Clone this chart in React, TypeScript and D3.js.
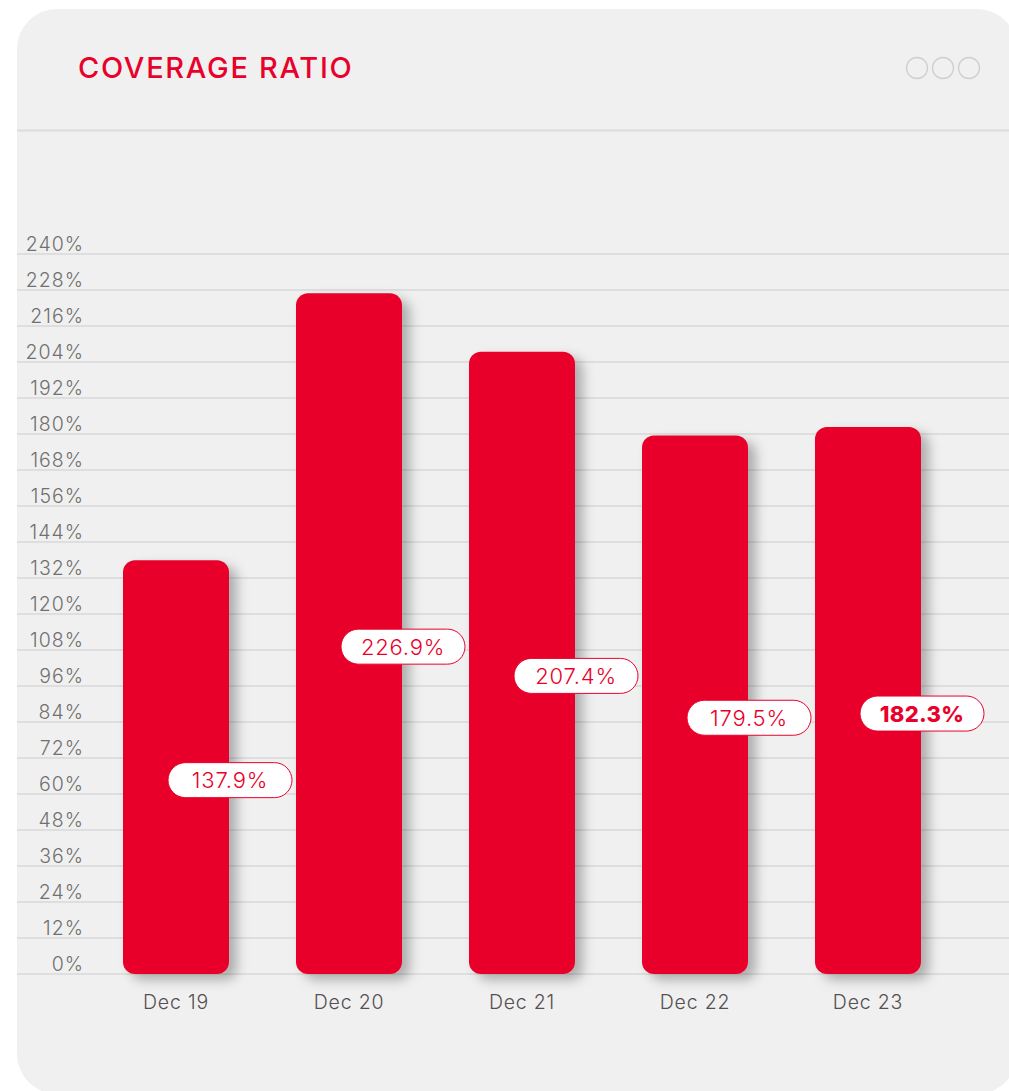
import React from "react";
import * as d3 from "d3";

const title = "COVERAGE RATIO";
const categories = ["Dec 19", "Dec 20", "Dec 21", "Dec 22", "Dec 23"];
const values = [137.9, 226.9, 207.4, 179.5, 182.3];
const valueLabels = ["137.9%", "226.9%", "207.4%", "179.5%", "182.3%"];
const boldLabel = [false, false, false, false, true];
const yTicks = [0, 12, 24, 36, 48, 60, 72, 84, 96, 108, 120, 132, 144, 156, 168, 180, 192, 204, 216, 228, 240];

const W = 1009;
const H = 1091;
const RED = "#e9002b";
const FONT = "Inter, 'Open Sans', sans-serif";

export default function App() {
  const x = d3.scalePoint<string>().domain(categories).range([176, 868]);
  const y = d3.scaleLinear().domain([0, 240]).range([974, 254]);
  const barW = 106;
  const pillW = 124;
  const pillH = 35;

  return (
    <svg
      width={W}
      height={H}
      style={{ position: "absolute", left: 0, top: 0, display: "block" }}
      fontFamily={FONT}
    >
      <defs>
        <filter id="barShadow" x="-30%" y="-10%" width="160%" height="130%">
          <feDropShadow dx="8" dy="6" stdDeviation="6" floodColor="#000" floodOpacity="0.28" />
        </filter>
      </defs>
      <rect x={0} y={0} width={W} height={H} fill="#ffffff" />
      <rect x={17} y={9} width={1000} height={1085} rx={40} ry={40} fill="#f0f0f0" />

      <text x={78} y={78} fill={RED} fontSize={29} fontWeight={500} letterSpacing={1.7}>
        {title}
      </text>
      {[917, 943, 969].map((cx) => (
        <circle key={cx} cx={cx} cy={68} r={10.5} fill="none" stroke="#cfcfcf" strokeWidth={1.3} />
      ))}
      <line x1={17} x2={W} y1={130.5} y2={130.5} stroke="#dcdcdc" strokeWidth={2} />

      {yTicks.map((t) => (
        <g key={t}>
          <line x1={17} x2={W} y1={y(t)} y2={y(t)} stroke="#cccccc" strokeWidth={1.2} />
          <text x={84} y={y(t) - 3} textAnchor="end" fill="#707070" fontSize={19.5} fontWeight={300} letterSpacing={1}>
            {`${t}%`}
          </text>
        </g>
      ))}

      {values.map((v, i) => {
        const cx = x(categories[i]) as number;
        return (
          <rect
            key={`bar-${i}`}
            x={cx - barW / 2}
            y={y(v)}
            width={barW}
            height={y(0) - y(v)}
            rx={12}
            ry={12}
            fill={RED}
            filter="url(#barShadow)"
          />
        );
      })}

      {values.map((v, i) => {
        const cx = (x(categories[i]) as number) + 54;
        const cy = y(v / 2) + 13;
        return (
          <g key={`pill-${i}`}>
            <rect
              x={cx - pillW / 2}
              y={cy - pillH / 2}
              width={pillW}
              height={pillH}
              rx={pillH / 2}
              ry={pillH / 2}
              fill="#ffffff"
              stroke={RED}
              strokeWidth={1}
            />
            <text
              x={cx}
              y={cy + 8}
              textAnchor="middle"
              fill={RED}
              fontSize={22}
              fontWeight={boldLabel[i] ? 800 : 300}
              letterSpacing={boldLabel[i] ? 0.3 : 0.8}
            >
              {valueLabels[i]}
            </text>
          </g>
        );
      })}

      {categories.map((c) => (
        <text
          key={c}
          x={x(c) as number}
          y={1009}
          textAnchor="middle"
          fill="#554f50"
          fontSize={19.5}
          fontWeight={300}
          letterSpacing={0.8}
        >
          {c}
        </text>
      ))}
    </svg>
  );
}
